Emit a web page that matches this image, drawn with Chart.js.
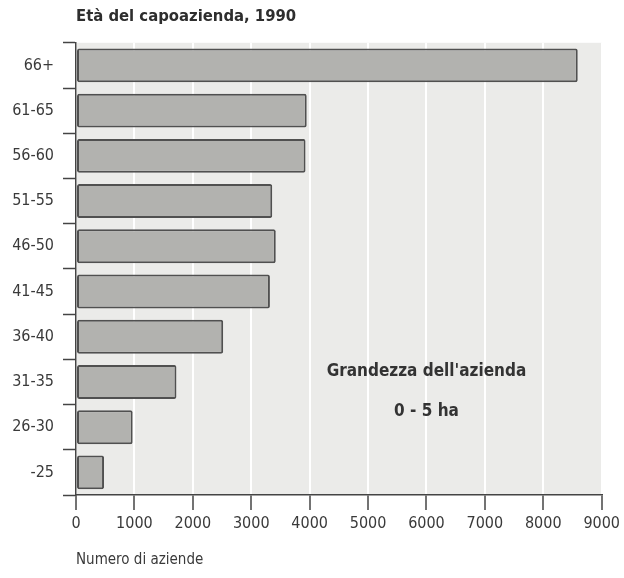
<!DOCTYPE html>
<html>
<head>
<meta charset="utf-8">
<script src="https://cdn.jsdelivr.net/npm/chart.js@4/dist/chart.umd.min.js"></script>
<style>
html,body{margin:0;padding:0;background:#fff;}
#wrap{width:624px;height:578px;position:relative;}
</style>
</head>
<body>
<div id="wrap"><canvas id="c" width="624" height="578"></canvas></div>
<script>
const categories = ['66+', '61-65', '56-60', '51-55', '46-50', '41-45', '36-40', '31-35', '26-30', '-25'];
const aziende = [8590, 3950, 3930, 3360, 3420, 3320, 2520, 1720, 970, 480];
const xTicks = [0, 1000, 2000, 3000, 4000, 5000, 6000, 7000, 8000, 9000];
const titleText = 'Età del capoazienda, 1990';
const xTitle = 'Numero di aziende';
const noteLines = ["Grandezza dell'azienda", '0 - 5 ha'];

const FONT = "'Liberation Sans Narrow', 'DejaVu Sans Condensed', 'Arial Narrow', sans-serif";
const TEXT = '#3a3a3a';

const bgPlugin = {
  id: 'bg',
  beforeDraw(chart) {
    const {ctx, chartArea: a} = chart;
    ctx.save();
    ctx.fillStyle = '#ebebe9';
    ctx.fillRect(a.left, a.top, a.right - a.left, a.bottom - a.top);
    ctx.restore();
  }
};

const notePlugin = {
  id: 'note',
  afterDraw(chart) {
    const {ctx} = chart;
    const xs = chart.scales.x, ys = chart.scales.y;
    const cx = xs.getPixelForValue(6000);
    const cy = ys.getPixelForValue(7);
    ctx.save();
    ctx.fillStyle = '#333';
    ctx.font = 'bold 17px ' + FONT;
    ctx.textAlign = 'center';
    ctx.textBaseline = 'middle';
    ctx.fillText(noteLines[0], cx, cy - 10);
    ctx.fillText(noteLines[1], cx, cy + 30);
    ctx.restore();
  }
};

new Chart(document.getElementById('c'), {
  type: 'bar',
  data: {
    labels: categories,
    datasets: [{
      data: aziende,
      backgroundColor: '#b2b2af',
      borderColor: '#505050',
      borderWidth: 2,
      borderSkipped: false,
      borderRadius: 2,
      barPercentage: 0.75,
      categoryPercentage: 1
    }]
  },
  options: {
    indexAxis: 'y',
    responsive: false,
    animation: false,
    layout: {padding: {left: 0, right: 20, top: 0, bottom: 0}},
    plugins: {
      legend: {display: false},
      tooltip: {enabled: false},
      title: {
        display: true,
        text: titleText,
        align: 'start',
        fullSize: false,
        color: '#2e2e2e',
        font: {family: FONT, size: 16.5, weight: 'bold'},
        padding: {top: 7, bottom: 16}
      }
    },
    scales: {
      x: {
        min: 0, max: 9000,
        afterBuildTicks(scale) { scale.ticks = xTicks.map(v => ({value: v})); },
        afterFit(scale) { scale.height = 83; },
        grid: {color: '#ffffff', lineWidth: 2, tickColor: '#444', tickWidth: 1.5, tickLength: 15, drawOnChartArea: true},
        border: {display: true, color: '#444', width: 1.5},
        ticks: {color: TEXT, font: {family: FONT, size: 16}, padding: 4, maxRotation: 0, callback: v => String(v)},
        title: {display: true, text: xTitle, align: 'start', color: TEXT, font: {family: FONT, size: 15}, padding: {top: 20, bottom: 9}}
      },
      y: {
        afterFit(scale) { scale.width = 76; },
        grid: {offset: true, drawOnChartArea: false, tickColor: '#444', tickWidth: 1.5, tickLength: 13},
        border: {display: true, color: '#444', width: 1.5},
        ticks: {color: TEXT, font: {family: FONT, size: 16}, padding: 9}
      }
    }
  },
  plugins: [bgPlugin, notePlugin]
});
</script>
</body>
</html>
